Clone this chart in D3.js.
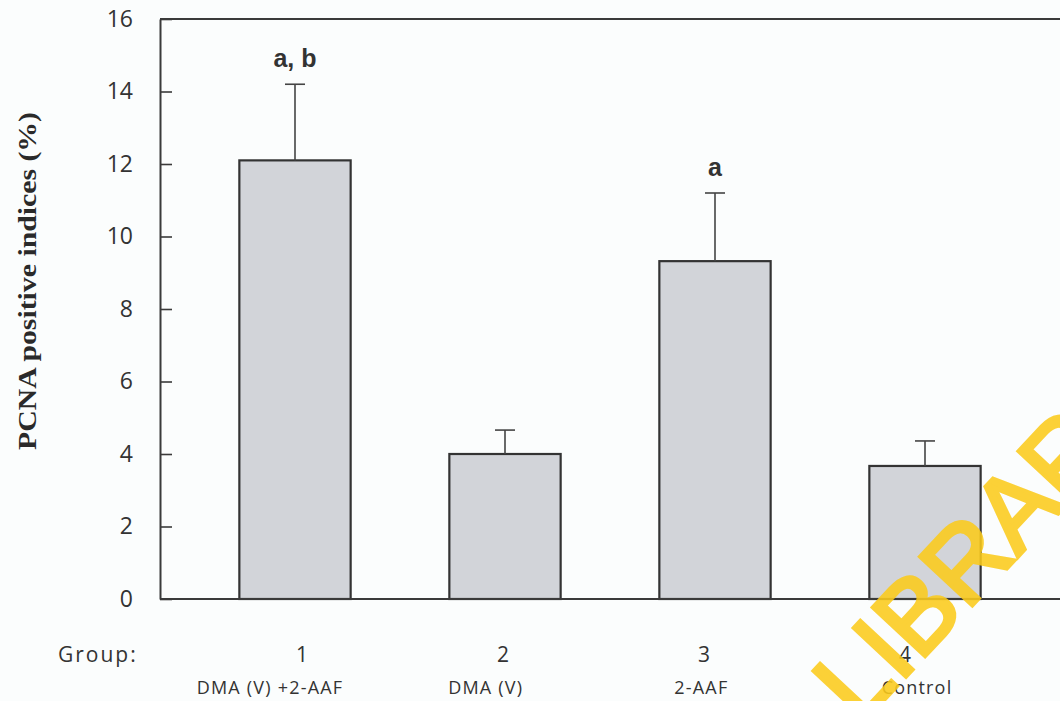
<!DOCTYPE html>
<html>
<head>
<meta charset="utf-8">
<script src="https://cdn.jsdelivr.net/npm/d3@7"></script>
<style>
  html, body { margin: 0; padding: 0; background: #fbfdfd; }
  svg { display: block; }
</style>
</head>
<body>
<svg id="chart" width="1060" height="701"></svg>
<script>
const groups = ["1", "2", "3", "4"];
const groupNames = ["DMA (V) +2-AAF", "DMA (V)", "2-AAF", "Control"];
const means = [12.1, 4.0, 9.32, 3.67];
const sems = [2.1, 0.66, 1.88, 0.69];
const sigLetters = ["a, b", "", "a", ""];
const yTicks = [0, 2, 4, 6, 8, 10, 12, 14, 16];
const yTitle = "PCNA positive indices (%)";
const groupTitle = "Group:";
const watermark = "LIBRARY";

const svg = d3.select("#chart");
const plot = { left: 160, top: 19, bottom: 599, right: 1075 };

const y = d3.scaleLinear().domain([0, 16]).range([plot.bottom, plot.top]);
const x = d3.scaleBand().domain(groups).range([190, 1030])
  .paddingInner(0.47).paddingOuter(0.235);
// label rows under the axis
const xNum = d3.scalePoint().domain(groups).range([302, 905]);
const xName = d3.scalePoint().domain(groups).range([270, 917]);

const ink = "#3a3a3a";

// Bars
svg.append("g").selectAll("rect").data(groups).join("rect")
  .attr("x", d => x(d))
  .attr("y", (d, i) => y(means[i]))
  .attr("width", x.bandwidth())
  .attr("height", (d, i) => y(0) - y(means[i]))
  .attr("fill", "#d2d4d9")
  .attr("stroke", "#333")
  .attr("stroke-width", 2.2);

// Error bars (upper only)
const err = svg.append("g").attr("stroke", "#444").attr("stroke-width", 1.6);
groups.forEach((g, i) => {
  const cx = x(g) + x.bandwidth() / 2;
  err.append("line").attr("x1", cx).attr("x2", cx)
    .attr("y1", y(means[i])).attr("y2", y(means[i] + sems[i]));
  err.append("line").attr("x1", cx - 10).attr("x2", cx + 10)
    .attr("y1", y(means[i] + sems[i])).attr("y2", y(means[i] + sems[i]));
});

// Significance letters
svg.append("g").selectAll("text").data(groups).join("text")
  .attr("x", d => x(d) + x.bandwidth() / 2)
  .attr("y", (d, i) => y(means[i] + sems[i]) - 17)
  .attr("text-anchor", "middle")
  .attr("font-family", "Liberation Sans, Arial, sans-serif")
  .attr("font-weight", "bold")
  .attr("font-size", 25)
  .attr("fill", "#333")
  .text((d, i) => sigLetters[i]);

// Y axis with inward ticks
const yAxis = d3.axisLeft(y).tickValues(yTicks).tickSizeInner(-12).tickSizeOuter(0).tickPadding(27);
const ya = svg.append("g").attr("transform", `translate(${plot.left},0)`).call(yAxis);
ya.select(".domain").attr("stroke", ink).attr("stroke-width", 2);
ya.selectAll(".tick line").attr("stroke", ink).attr("stroke-width", 1.6);
ya.selectAll(".tick text")
  .attr("font-family", "Open Sans, Liberation Sans, sans-serif")
  .attr("font-size", 23)
  .attr("fill", "#333");

// Top frame and baseline
svg.append("line").attr("x1", plot.left).attr("x2", plot.right)
  .attr("y1", y(16)).attr("y2", y(16)).attr("stroke", ink).attr("stroke-width", 2);
svg.append("line").attr("x1", plot.left).attr("x2", plot.right)
  .attr("y1", y(0)).attr("y2", y(0)).attr("stroke", ink).attr("stroke-width", 2);

// Y title
svg.append("text")
  .attr("transform", "translate(36, 281) rotate(-90)")
  .attr("text-anchor", "middle")
  .attr("font-family", "Liberation Serif, Times New Roman, serif")
  .attr("font-weight", "bold")
  .attr("font-size", 25)
  .attr("textLength", 338)
  .attr("lengthAdjust", "spacingAndGlyphs")
  .attr("fill", "#2a2a2a")
  .text(yTitle);

// Group labels
const xl = svg.append("g")
  .attr("font-family", "Open Sans, Liberation Sans, sans-serif")
  .attr("fill", "#333");
xl.append("text").attr("x", 58).attr("y", 662).attr("font-size", 21)
  .attr("letter-spacing", 2).text(groupTitle);
xl.selectAll("text.num").data(groups).join("text").attr("class", "num")
  .attr("x", d => xNum(d))
  .attr("y", 662)
  .attr("text-anchor", "middle")
  .attr("font-size", 21)
  .text(d => d);
xl.selectAll("text.name").data(groups).join("text").attr("class", "name")
  .attr("x", d => xName(d))
  .attr("y", 694)
  .attr("text-anchor", "middle")
  .attr("font-size", 18)
  .attr("letter-spacing", 1.2)
  .text((d, i) => groupNames[i]);

// Watermark
svg.append("text")
  .attr("transform", "translate(860, 726) rotate(-47)")
  .attr("font-family", "Liberation Sans, Arial, sans-serif")
  .attr("font-size", 104)
  .attr("fill", "#fbcb1c")
  .attr("stroke", "#fbcb1c")
  .attr("stroke-width", 4)
  .attr("stroke-linejoin", "miter")
  .attr("opacity", 0.88)
  .text(watermark);
</script>
</body>
</html>
